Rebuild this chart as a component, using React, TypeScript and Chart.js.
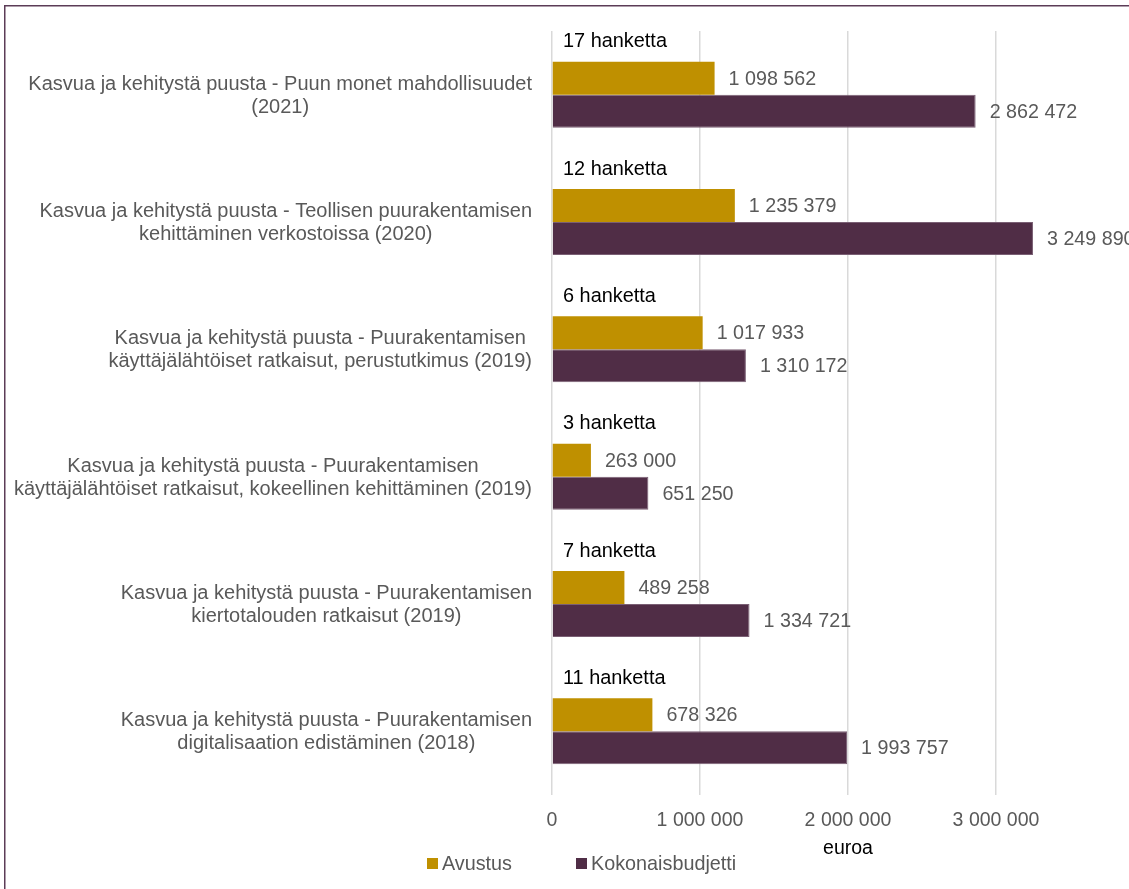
import React, { useEffect, useRef } from "react";
import { Chart, registerables } from "chart.js";

Chart.register(...registerables);

const categories: string[][] = [
  ["Kasvua ja kehitystä puusta - Puun monet mahdollisuudet", "(2021)"],
  ["Kasvua ja kehitystä puusta - Teollisen puurakentamisen", "kehittäminen verkostoissa (2020)"],
  ["Kasvua ja kehitystä puusta - Puurakentamisen", "käyttäjälähtöiset ratkaisut, perustutkimus (2019)"],
  ["Kasvua ja kehitystä puusta - Puurakentamisen", "käyttäjälähtöiset ratkaisut, kokeellinen kehittäminen (2019)"],
  ["Kasvua ja kehitystä puusta - Puurakentamisen", "kiertotalouden ratkaisut (2019)"],
  ["Kasvua ja kehitystä puusta - Puurakentamisen", "digitalisaation edistäminen (2018)"],
];
const projectCounts: number[] = [17, 12, 6, 3, 7, 11];
const projectSuffix = "hanketta";
const avustus: number[] = [1098562, 1235379, 1017933, 263000, 489258, 678326];
const kokonaisbudjetti: number[] = [2862472, 3249890, 1310172, 651250, 1334721, 1993757];
const seriesNames: string[] = ["Avustus", "Kokonaisbudjetti"];
const seriesColors: string[] = ["#BF9000", "#502D46"];
const xMin = 0;
const xMax = 4000000;
const xStep = 1000000;
const xTickLimit = 3000000;
const axisTitle = "euroa";

const W = 1180;
const H = 889;
const FONT = '"Liberation Sans", Arial, sans-serif';
const GRAY = "#595959";

const fmt = (v: number) =>
  Math.round(v).toString().replace(/\B(?=(\d{3})+(?!\d))/g, " ");

const overlay = {
  id: "overlay",
  afterDraw(chart: any) {
    const ctx: CanvasRenderingContext2D = chart.ctx;
    const area = chart.chartArea;
    const yScale = chart.scales.y;
    ctx.save();

    // frame
    ctx.strokeStyle = "#5c3c57";
    ctx.lineWidth = 1.5;
    ctx.strokeRect(4.75, 5.75, 1160, 1000);

    // category labels: block right-aligned, lines centered within block
    ctx.font = `20px ${FONT}`;
    ctx.fillStyle = GRAY;
    ctx.textBaseline = "middle";
    ctx.textAlign = "center";
    categories.forEach((lines, i) => {
      const cy = yScale.getPixelForValue(i);
      const widest = Math.max(...lines.map((l) => ctx.measureText(l).width));
      const cx = area.left - 20 - widest / 2;
      const lh = 23;
      lines.forEach((l, j) => {
        ctx.fillText(l, cx, cy + (j - (lines.length - 1) / 2) * lh + 1);
      });
    });

    // value labels
    ctx.textAlign = "left";
    ctx.font = `19.7px ${FONT}`;
    ctx.fillStyle = GRAY;
    chart.data.datasets.forEach((ds: any, d: number) => {
      const meta = chart.getDatasetMeta(d);
      meta.data.forEach((bar: any, i: number) => {
        ctx.fillText(fmt(ds.data[i]), bar.x + 14, bar.y + 1);
      });
    });

    // project counts above each group
    ctx.fillStyle = "#000";
    ctx.font = `19.9px ${FONT}`;
    const firstMeta = chart.getDatasetMeta(0);
    firstMeta.data.forEach((bar: any, i: number) => {
      const top = bar.y - bar.height / 2;
      ctx.fillText(`${projectCounts[i]} ${projectSuffix}`, area.left + 11, top - 20);
    });

    // axis title
    ctx.textAlign = "center";
    ctx.font = `19.5px ${FONT}`;
    ctx.fillStyle = "#000";
    ctx.fillText(axisTitle, (area.left + area.right) / 2, 849);

    // legend
    ctx.textAlign = "left";
    ctx.font = `19.8px ${FONT}`;
    const legendX = [427, 576];
    seriesNames.forEach((name, k) => {
      ctx.fillStyle = seriesColors[k];
      ctx.fillRect(legendX[k], 858, 11, 11);
      ctx.fillStyle = GRAY;
      ctx.fillText(name, legendX[k] + 15, 865);
    });

    ctx.restore();
  },
};

export default function App() {
  const ref = useRef<HTMLCanvasElement>(null);

  useEffect(() => {
    if (!ref.current) return;
    const chart = new Chart(ref.current, {
      type: "bar",
      data: {
        labels: categories.map((c) => c.join(" ")),
        datasets: [
          {
            label: seriesNames[0],
            data: avustus,
            backgroundColor: seriesColors[0],
            borderColor: seriesColors[0],
            borderWidth: 0,
            barPercentage: 1,
            categoryPercentage: 0.518,
          },
          {
            label: seriesNames[1],
            data: kokonaisbudjetti,
            backgroundColor: seriesColors[1],
            borderColor: "#7a5f74",
            borderWidth: 1,
            barPercentage: 1,
            categoryPercentage: 0.518,
          },
        ],
      },
      options: {
        indexAxis: "y",
        responsive: false,
        animation: false,
        devicePixelRatio: 1,
        layout: { padding: { left: 552, right: W - 1144, top: 31, bottom: 0 } },
        plugins: {
          legend: { display: false },
          tooltip: { enabled: false },
        },
        scales: {
          x: {
            min: xMin,
            max: xMax,
            afterBuildTicks: (scale: any) => {
              scale.ticks = scale.ticks.filter((t: any) => t.value <= xTickLimit);
            },
            afterFit: (scale: any) => {
              scale.height = H - 795;
            },
            ticks: {
              stepSize: xStep,
              color: GRAY,
              font: { family: FONT, size: 19.5 },
              padding: 14,
              maxRotation: 0,
              callback: (v: any) => fmt(Number(v)),
            },
            grid: { color: "#d9d9d9", lineWidth: 1.5, drawTicks: false },
            border: { display: false },
          },
          y: {
            display: false,
            offset: true,
            grid: { display: false },
          },
        },
      },
      plugins: [overlay],
    });
    return () => chart.destroy();
  }, []);

  return (
    <div
      style={{
        position: "fixed",
        left: 0,
        top: 0,
        width: 1129,
        height: 889,
        overflow: "hidden",
        background: "#fff",
      }}
    >
      <canvas ref={ref} width={W} height={H} style={{ width: W, height: H, display: "block" }} />
    </div>
  );
}
